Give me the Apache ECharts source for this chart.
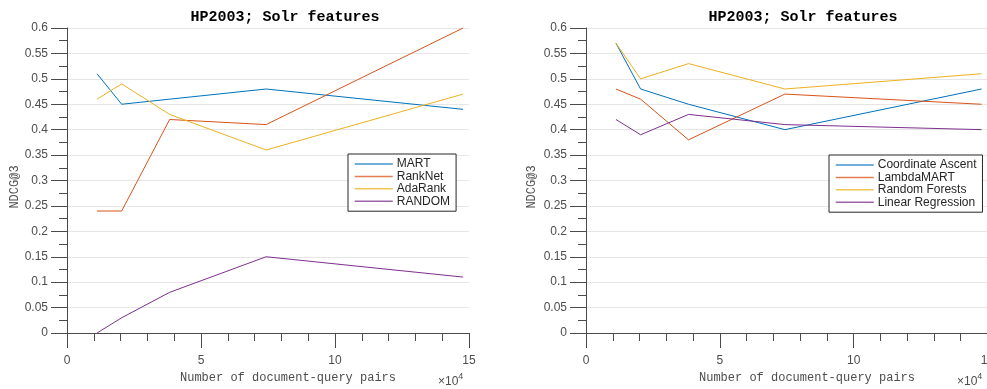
<!DOCTYPE html>
<html>
<head>
<meta charset="utf-8">
<script src="https://cdn.jsdelivr.net/npm/echarts@6/dist/echarts.min.js"></script>
<style>
html,body{margin:0;padding:0;background:#fff;}
#chart{width:987px;height:389px;}
</style>
</head>
<body>
<div id="chart"></div>
<script>
// x values in units of 10^4 document-query pairs
const xValues = [1.12, 2.04, 3.83, 7.43, 14.78];
const yTicks = [0, 0.05, 0.1, 0.15, 0.2, 0.25, 0.3, 0.35, 0.4, 0.45, 0.5, 0.55, 0.6];
const xTicks = [0, 5, 10, 15];

const leftNames = ['MART', 'RankNet', 'AdaRank', 'RANDOM'];
const martVals    = [0.51, 0.45, 0.46, 0.48, 0.44];
const rankNetVals = [0.24, 0.24, 0.42, 0.41, 0.60];
const adaRankVals = [0.46, 0.49, 0.43, 0.36, 0.47];
const randomVals  = [0.00, 0.03, 0.08, 0.15, 0.11];

const rightNames = ['Coordinate Ascent', 'LambdaMART', 'Random Forests', 'Linear Regression'];
const coordAscentVals = [0.57, 0.48, 0.45, 0.40, 0.48];
const lambdaMartVals  = [0.48, 0.46, 0.38, 0.47, 0.45];
const randForestVals  = [0.57, 0.50, 0.53, 0.48, 0.51];
const linRegVals      = [0.42, 0.39, 0.43, 0.41, 0.40];

const titleText = 'HP2003; Solr features';
const xName = 'Number of document-query pairs';
const yName = 'NDCG@3';

const colors = ['#0072BD', '#D95319', '#EDB120', '#7E2F8E'];
const axisColor = '#4a4a4a';
const labelColor = '#4d4d4d';
const sans = '"Liberation Sans", Arial, sans-serif';
const mono = '"Liberation Mono", "Courier New", monospace';

function pairs(vals) { return vals.map((v, i) => [xValues[i], v]); }

function xAxis(gi) {
  return {
    type: 'value', gridIndex: gi,
    min: xTicks[0], max: xTicks[xTicks.length - 1], interval: 5,
    axisLine: { show: true, onZero: false, lineStyle: { color: axisColor, width: 1 } },
    axisTick: { show: true, length: 15, lineStyle: { color: axisColor } },
    minorTick: { show: true, splitNumber: 5, length: 8, lineStyle: { color: axisColor } },
    axisLabel: { color: labelColor, fontFamily: sans, fontSize: 12, margin: 22, hideOverlap: false },
    splitLine: { show: false }
  };
}
function yAxis(gi) {
  return {
    type: 'value', gridIndex: gi,
    min: yTicks[0], max: yTicks[yTicks.length - 1], interval: 0.05,
    axisLine: { show: true, lineStyle: { color: axisColor, width: 1 } },
    axisTick: { show: true, length: 16, lineStyle: { color: axisColor } },
    minorTick: { show: true, splitNumber: 2, length: 8, lineStyle: { color: axisColor } },
    axisLabel: { color: labelColor, fontFamily: sans, fontSize: 12, margin: 19,
      formatter: v => String(+v.toFixed(2)) },
    splitLine: { show: true, lineStyle: { color: '#e6e6e6', width: 1 } }
  };
}
function line(name, vals, ci, gi) {
  return {
    type: 'line', name: name, data: pairs(vals),
    xAxisIndex: gi, yAxisIndex: gi,
    symbol: 'none', showSymbol: false,
    lineStyle: { color: colors[ci], width: 1 },
    itemStyle: { color: colors[ci] },
    animation: false
  };
}
function legend(names, left, top) {
  return {
    data: names, orient: 'vertical', left: left, top: top,
    itemWidth: 38, itemHeight: 14, itemGap: 0.4,
    padding: [4, 6, 4, 6],
    borderColor: '#262626', borderWidth: 1, backgroundColor: '#fff',
    itemStyle: { color: 'rgba(0,0,0,0)', borderWidth: 0, opacity: 0 },
    lineStyle: { width: 1.5, opacity: 0.75 },
    textStyle: { color: '#262626', fontFamily: sans, fontSize: 12, padding: [0, 0, 0, -1] },
    selectedMode: false
  };
}
function txt(x, y, text, font, color, extra) {
  return Object.assign({
    type: 'text', x: x, y: y, silent: true,
    style: Object.assign({ text: text, font: font, fill: color, align: 'center', verticalAlign: 'middle' }, extra && extra.style || {})
  }, extra && extra.el || {});
}
function sci(x, y) {
  return {
    type: 'text', x: x, y: y, silent: true,
    style: {
      text: '{a|×10}{b|4}', align: 'left', verticalAlign: 'middle',
      rich: {
        a: { font: '12px ' + sans, fill: labelColor, verticalAlign: 'bottom', padding: [4, 0, 0, 0] },
        b: { font: '9px ' + sans, fill: labelColor, verticalAlign: 'top' }
      }
    }
  };
}

const chart = echarts.init(document.getElementById('chart'), null, { renderer: 'canvas' });
chart.setOption({
  animation: false,
  backgroundColor: '#fff',
  grid: [
    { left: 67, top: 28, width: 402, height: 305, outerBoundsMode: 'none', containLabel: false },
    { left: 586, top: 28, width: 401.5, height: 305, outerBoundsMode: 'none', containLabel: false }
  ],
  xAxis: [xAxis(0), xAxis(1)],
  yAxis: [yAxis(0), yAxis(1)],
  legend: [legend(leftNames, 348, 154), legend(rightNames, 829, 155)],
  series: [
    line(leftNames[0], martVals, 0, 0),
    line(leftNames[1], rankNetVals, 1, 0),
    line(leftNames[2], adaRankVals, 2, 0),
    line(leftNames[3], randomVals, 3, 0),
    line(rightNames[0], coordAscentVals, 0, 1),
    line(rightNames[1], lambdaMartVals, 1, 1),
    line(rightNames[2], randForestVals, 2, 1),
    line(rightNames[3], linRegVals, 3, 1)
  ],
  graphic: [
    txt(285, 17, titleText, 'bold 15px ' + mono, '#000'),
    txt(803, 17, titleText, 'bold 15px ' + mono, '#000'),
    txt(288, 378, xName, '12px ' + mono, '#4d4d4d'),
    txt(807, 378, xName, '12px ' + mono, '#4d4d4d'),
    txt(15, 187, yName, '12px ' + mono, '#4d4d4d', { el: { rotation: Math.PI / 2 } }),
    txt(532, 187, yName, '12px ' + mono, '#4d4d4d', { el: { rotation: Math.PI / 2 } }),
    sci(438, 380),
    sci(957, 380)
  ]
});
</script>
</body>
</html>
